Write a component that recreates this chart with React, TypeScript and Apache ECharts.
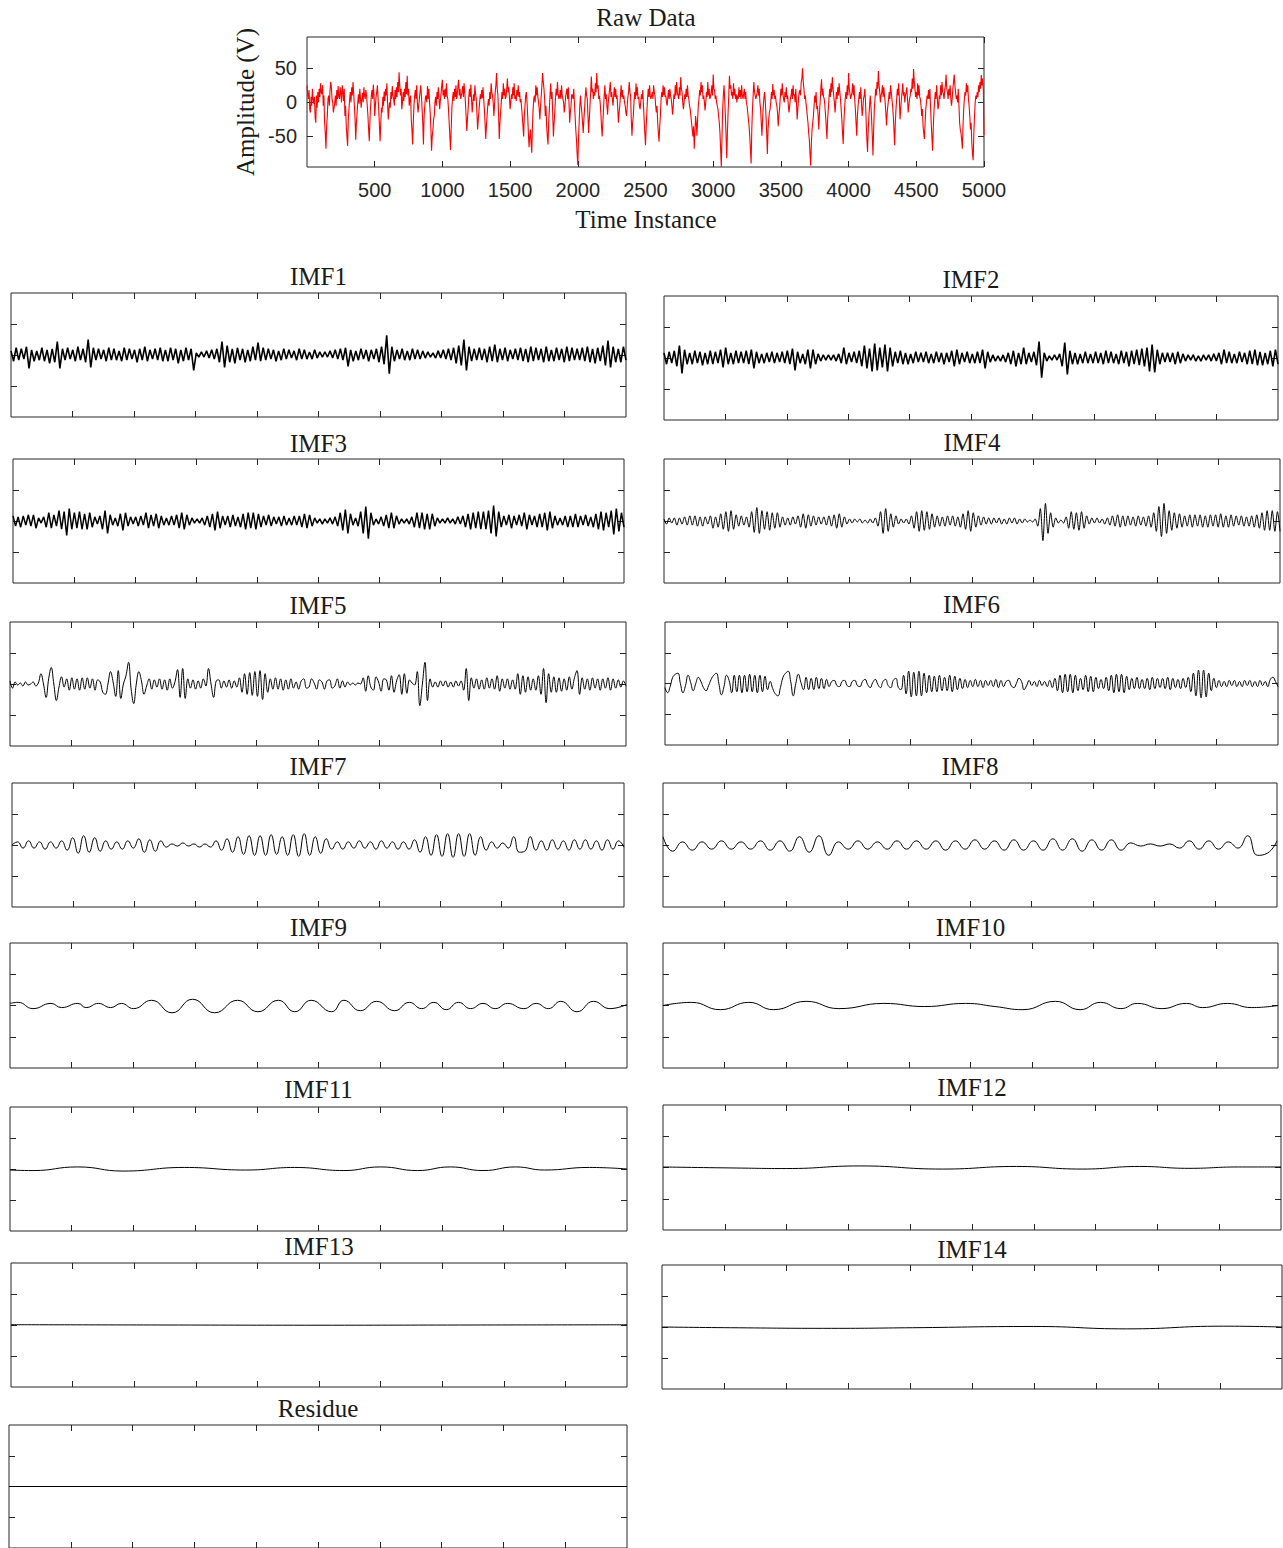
import React, { useEffect, useRef } from 'react';
import * as echarts from 'echarts';

// ---------------- DATA ----------------
const RAW_STEP = 5; // samples between values
const RAW_VALUES = [
  25,12,5,18,-10,-15,8,-5,20,5,-2,8,-22,-30,10,-8,15,0,20,8,28,15,12,25,-5,10,-30,-45,-68,-35,-20,5,10,-5,18,30,22,5,0,-15,
  -15,0,10,-5,18,5,24,8,5,22,14,0,25,15,2,20,-20,-5,-35,-50,-64,-25,-10,5,15,0,22,10,30,12,-5,-25,-55,-30,-15,0,12,-2,20,5,
  -8,5,14,0,22,10,5,18,10,-5,-20,-40,-57,-25,-5,10,18,5,26,10,-20,-5,8,15,25,5,-12,-35,-57,-30,-8,-15,8,-5,16,2,20,10,28,0,
  -25,-10,0,-8,15,5,24,10,5,-5,18,5,22,8,30,15,44,25,10,20,-10,0,15,2,20,8,30,12,39,10,20,-5,5,10,-25,-40,-62,-30,-5,10,
  18,5,25,0,-15,-5,5,15,25,10,-10,-30,-62,-20,-5,8,10,0,24,5,20,0,-15,-40,-71,-50,-40,-25,-20,0,8,-5,15,5,22,5,-10,3,12,25,
  33,10,18,5,20,8,28,10,5,-10,-30,-50,-70,-40,-8,5,15,2,20,8,25,5,12,25,33,10,20,5,10,15,24,8,28,15,0,-20,-42,-25,-10,8,
  20,8,26,5,-15,0,12,2,25,12,5,-15,-40,-25,-12,0,12,5,18,6,22,5,-10,-30,-54,-35,-20,-5,5,-5,15,5,28,15,10,0,-20,-5,15,25,
  43,20,10,-20,-54,-30,-15,0,15,5,28,10,20,5,8,20,35,15,22,8,-10,0,12,5,22,10,28,5,10,2,18,10,25,8,15,0,5,-8,-20,-35,
  -50,-20,-5,10,15,0,-20,-45,-66,-50,-40,-60,-74,-35,-10,5,10,0,25,10,22,8,0,-10,-25,-5,10,25,43,30,20,5,-20,-5,-35,-50,-62,-30,-10,12,
  28,5,15,-20,-50,-30,-15,5,20,10,30,12,5,8,18,5,25,10,10,0,-15,-5,8,15,20,5,22,0,-30,-15,-5,12,10,5,20,0,-20,-40,-55,-75,
  -92,-55,-30,-5,10,-5,-15,-30,-45,-25,-10,8,22,10,5,-20,-45,-25,-5,15,38,15,20,5,15,10,28,15,43,20,25,5,10,0,-15,-35,-50,-30,-10,10,
  25,5,12,-5,-18,0,10,20,30,8,15,5,-5,10,22,8,20,5,10,-10,-30,-15,-5,10,25,8,18,5,10,0,-5,-15,-20,-5,8,15,30,15,10,-25,
  -49,-30,-20,0,15,5,28,10,22,5,8,-5,-10,0,12,5,18,-5,-25,-45,-63,-35,-15,5,20,8,25,10,5,10,15,5,25,15,10,-5,-15,-5,-30,-45,
  -58,-35,-20,5,15,8,25,10,22,8,10,0,-5,8,18,5,20,10,5,-5,-18,-5,12,5,25,10,30,15,10,5,22,10,37,20,15,0,-10,0,12,5,
  20,8,25,10,5,-5,-10,-20,-30,-40,-50,-35,-68,-45,-20,-30,-49,-25,-5,5,18,10,30,15,25,5,10,0,-12,0,15,8,30,10,20,5,8,15,25,10,
  41,20,18,5,10,0,-5,-10,-20,-30,-45,-70,-95,-50,-10,10,25,5,-20,-50,-82,-45,-15,10,39,20,25,10,15,5,28,10,20,5,12,0,10,5,22,8,
  18,5,25,10,5,12,20,5,15,0,-5,-15,-25,-35,-50,-70,-90,-40,-10,10,30,15,15,5,10,15,25,10,20,0,-10,-30,-49,-25,-5,8,15,0,-20,-45,
  -76,-40,-25,-15,-10,0,15,5,27,10,18,5,10,0,-5,-15,-35,-20,-10,5,20,10,28,12,5,0,15,8,22,5,10,-5,-15,-5,5,10,20,5,25,10,
  12,0,20,0,-25,-10,5,15,18,10,30,35,50,30,20,5,10,0,-10,-20,-30,-45,-55,-75,-93,-60,-40,-30,-20,-5,10,0,15,-10,-5,-20,-40,-15,0,20,
  34,10,20,8,5,-5,-20,-35,-54,-25,-10,5,20,8,28,15,37,20,10,0,-15,0,15,5,22,10,28,15,5,-10,-25,-45,-61,-30,-10,5,15,5,25,10,
  43,20,20,5,10,15,28,10,25,5,-10,-30,-49,-20,-5,5,15,5,22,0,-20,-10,5,10,20,0,-30,-55,-73,-40,-20,-5,10,-5,-25,-50,-78,-40,-10,5,
  20,10,30,20,46,25,15,0,10,15,25,8,22,10,0,-15,-34,-15,-5,5,15,5,25,15,5,-5,-20,-40,-63,-30,-10,5,20,10,28,5,-25,-10,5,15,
  28,10,15,0,10,15,22,5,-15,-5,5,10,20,15,35,20,49,30,20,8,15,5,28,10,25,8,5,-5,-20,-10,-35,-45,-54,-30,-10,0,10,5,18,5,
  20,-5,-30,-50,-71,-40,-15,0,15,5,25,8,-10,-5,10,5,25,10,30,15,12,5,18,25,41,20,15,5,20,10,25,5,-5,5,20,30,41,25,15,5,
  10,0,20,-5,-30,-40,-45,-55,-68,-35,-10,5,15,10,28,15,25,5,-5,-20,-40,-30,-60,-75,-85,-45,-20,0,10,5,15,8,25,15,30,20,40,25,35,20,
  -48,
];
const RAW_X_TICKS = [500, 1000, 1500, 2000, 2500, 3000, 3500, 4000, 4500, 5000];
const RAW_Y_TICKS = [-50, 0, 50];
const IMF_X_TICKS = [500, 1000, 1500, 2000, 2500, 3000, 3500, 4000, 4500];
const IMF_Y_TICKS = [-30, 0, 30];
const N_SAMPLES = 5000;

const IMF1 = [
  4,-6,7,-5,6,-4,8,-13,5,-6,4,-5,7,-6,5,-8,6,-7,13,-13,
  6,-5,7,-4,5,-6,8,-5,6,-7,15,-12,7,-5,6,-4,5,-6,7,-5,
  6,-5,4,-6,7,-5,6,-4,5,-7,6,-5,8,-6,5,-4,6,-5,7,-6,
  5,-6,7,-5,6,-8,5,-6,7,-5,6,-15,2,-2,3,-2,4,-3,5,-4,
  6,-7,13,-12,9,-7,6,-8,7,-5,6,-7,5,-6,8,-5,12,-6,7,-5,
  6,-4,5,-6,4,-5,6,-4,5,-3,4,-5,6,-4,5,-4,3,-4,5,-3,
  3,-2,3,-2,4,-3,5,-4,6,-5,7,-11,5,-6,4,-5,6,-4,5,-6,
  5,-4,6,-7,8,-9,19,-18,8,-6,5,-4,6,-5,4,-5,6,-4,5,-4,
  4,-3,3,-2,2,-3,4,-3,5,-4,6,-5,7,-8,9,-10,15,-15,8,-6,
  6,-5,7,-5,6,-7,8,-6,10,-7,6,-5,7,-6,5,-4,6,-5,7,-6,
  6,-7,8,-6,7,-5,6,-7,8,-6,5,-6,7,-5,6,-7,8,-6,7,-5,
  6,-5,7,-6,8,-7,6,-8,7,-6,9,-10,14,-12,8,-7,6,-7,8,-5,
];
const IMF2 = [
  5,-6,6,-5,7,-8,12,-15,8,-6,5,-6,7,-5,6,-7,5,-6,7,-6,
  6,-5,8,-9,10,-6,5,-6,7,-5,6,-5,7,-6,8,-10,6,-5,4,-5,
  5,-4,6,-5,5,-4,6,-5,7,-6,9,-12,6,-5,4,-6,8,-10,8,-6,
  4,-3,3,-2,3,-2,3,-3,4,-5,10,-6,5,-4,6,-5,7,-8,12,-10,
  9,-13,14,-12,10,-9,13,-13,10,-8,6,-5,7,-6,5,-6,4,-5,6,-4,
  5,-4,6,-5,4,-5,6,-4,5,-6,5,-4,7,-8,8,-6,5,-4,6,-5,
  4,-5,6,-5,8,-10,6,-4,3,-3,2,-3,3,-4,5,-6,7,-8,5,-6,
  10,-6,5,-4,6,-7,16,-19,5,-3,2,-2,3,-2,4,-8,15,-16,7,-6,
  5,-6,4,-5,6,-5,4,-5,6,-5,5,-6,7,-5,6,-5,4,-6,7,-5,
  6,-8,7,-6,8,-7,9,-8,10,-13,13,-14,8,-6,5,-4,5,-4,5,-6,
  6,-5,4,-3,3,-2,3,-3,2,-3,3,-2,3,-3,4,-3,5,-6,8,-5,
  6,-5,4,-5,6,-4,5,-6,7,-6,8,-7,6,-7,5,-6,7,-8,8,-6,
];
const IMF3 = [
  5,-5,4,-6,5,-4,6,-5,6,-7,3,-2,4,-6,8,-7,6,-5,10,-8,
  9,-14,12,-8,8,-7,9,-8,7,-8,8,-6,4,-3,5,-8,10,-12,6,-4,
  3,-5,7,-9,8,-5,4,-3,4,-5,5,-4,8,-7,6,-5,7,-7,5,-4,
  3,-4,5,-4,6,-7,8,-8,6,-4,3,-2,2,-2,3,-4,5,-6,7,-9,
  9,-7,5,-4,5,-6,6,-5,4,-6,7,-8,8,-7,8,-8,7,-6,5,-4,
  6,-5,4,-3,4,-5,5,-4,3,-4,5,-4,5,-6,7,-7,6,-5,3,-2,
  2,-3,2,-2,3,-3,4,-5,8,-9,11,-12,7,-4,3,-5,9,-12,14,-17,
  8,-4,2,-3,4,-5,6,-7,8,-7,5,-3,2,-2,2,-3,4,-6,8,-7,
  8,-8,7,-8,7,-5,3,-2,2,-2,3,-2,2,-3,4,-3,5,-6,7,-8,
  8,-7,9,-8,9,-8,10,-12,15,-15,9,-6,5,-4,6,-7,5,-4,6,-5,
  8,-8,6,-4,5,-6,7,-6,8,-9,9,-7,5,-4,3,-4,5,-6,5,-6,
  7,-6,5,-4,6,-5,4,-6,7,-8,9,-9,8,-6,10,-13,12,-10,8,-6,
];
const IMF4 = [
  2,-3,3,-2,3,-4,3,-3,4,-4,5,-4,5,-5,4,-5,4,-3,5,-7,
  4,-6,7,-8,9,-10,10,-8,6,-5,5,-4,4,-6,9,-11,13,-12,10,-8,
  9,-9,8,-7,8,-6,4,-4,3,-4,4,-3,5,-6,7,-7,6,-5,5,-4,
  4,-3,4,-4,5,-5,6,-7,7,-6,4,-3,2,-2,2,-1,2,-2,1,-2,
  2,-2,3,-5,9,-12,12,-10,7,-6,5,-3,2,-2,2,-3,5,-7,9,-10,
  10,-9,9,-8,7,-6,5,-5,4,-5,5,-4,5,-5,4,-6,7,-8,10,-10,
  8,-6,5,-4,4,-3,3,-3,3,-2,3,-3,2,-3,3,-2,3,-3,2,-2,
  2,-1,1,-1,2,-5,12,-19,17,-12,8,-6,3,-2,1,-2,4,-7,9,-8,
  8,-9,9,-7,5,-3,3,-2,3,-2,2,-3,3,-4,5,-5,6,-6,5,-5,
  5,-4,4,-5,5,-4,4,-5,5,-6,8,-10,14,-15,17,-12,10,-9,8,-7,
  7,-6,5,-5,6,-6,6,-5,6,-6,5,-6,6,-5,6,-6,7,-6,5,-6,
  6,-5,5,-4,5,-5,4,-5,5,-6,6,-7,8,-9,10,-9,10,-10,9,-10,
];
const IMF5 = [
  3,-4,2,-1,1,-2,2,-1,0,2,-2,1,
  10,0,-13,5,16,0,-16,-3,7,-3,5,-6,
  6,-5,5,-6,6,-5,6,-4,5,-6,4,2,
  -8,-10,0,12,2,-12,13,-14,0,8,21,-5,
  -19,0,12,3,-10,-2,5,-5,4,-3,5,-5,
  4,-6,5,-4,2,14,-13,15,-14,5,-4,4,
  -5,3,-4,5,-2,15,0,-13,3,4,-4,3,
  -3,4,-4,3,-3,6,-8,10,-10,11,-11,12,
  -12,13,-15,10,-8,5,-5,6,-5,5,-6,4,
  -5,5,-4,2,-5,3,5,-4,-3,5,1,-5,
  4,2,-5,3,4,-4,-2,5,-4,3,-3,2,
  -1,1,-1,1,0,6,-7,8,-3,-6,7,2,
  -7,5,4,-6,8,-8,3,9,-10,10,-9,4,
  1,-1,12,-21,0,21,-16,5,-3,2,-3,3,
  -2,3,-3,2,-3,3,-2,3,-6,15,-16,6,
  -4,5,-5,4,-5,6,-4,5,-5,8,-7,5,
  -4,5,-5,4,-5,10,-10,8,-8,7,-6,5,
  -6,8,-10,15,-18,10,-8,7,-8,6,-7,5,
  -6,7,-5,6,13,-10,6,-5,5,-6,6,-4,
  5,-6,5,-4,6,-6,5,-4,4,-3,3,-2,
];
const IMF6 = [
  -4,-9,-3,6,9,10,0,-9,-2,8,1,-7,
  0,6,2,-4,-7,-2,4,8,10,0,-11,-3,
  8,3,-9,8,-8,8,-9,8,-8,9,-8,8,
  -9,8,-8,7,-6,2,-5,-10,-12,-4,6,10,12,2,-12,0,9,1,-6,6,
  -6,5,-6,6,-5,5,-5,4,
  -3,2,3,-2,-3,2,3,-2,-3,2,3,-2,-3,2,4,-1,-4,1,4,-1,-4,2,4,-2,-4,3,5,-4,-6,
  8,-10,12,-13,11,-12,12,-12,10,-9,8,
  -8,7,-8,8,-7,6,-7,8,-8,7,-6,5,-5,4,
  -4,3,-3,4,-3,3,-4,3,-2,3,-3,4,-4,3,-3,2,3,-2,-4,0,5,
  2,-6,-2,3,-2,
  2,-3,3,-2,2,-3,3,-4,5,
  -7,8,-9,9,-8,9,-9,8,-7,
  5,-6,8,-8,7,-8,6,-5,
  4,-5,6,-7,
  8,-9,9,-8,9,-9,7,
  -6,5,-5,6,-5,4,-5,5,-6,6,-5,5,-4,5,-5,6,-6,5,-4,4,-5,5,-4,6,-8,
  10,-12,13,-14,13,-13,10,-7,5,-4,
  3,-3,2,-3,3,-2,3,-3,2,-3,3,-2,3,-3,2,-3,3,-2,
  2,-3,4,6,2,-3,
];
const IMF7 = [
  0,3,-3,4,-3,3,-4,3,-3,4,
  -5,7,-8,9,-7,7,-6,
  4,-4,3,-4,4,-3,
  6,-7,5,-6,4,
  -2,1,-1,2,-1,1,-2,1,-2,
  4,-5,6,-7,
  8,-9,9,-10,9,-10,10,-9,8,-10,10,-11,11,-10,8,-8,6,
  -4,3,-4,3,-3,4,-3,3,-4,4,-3,3,-4,3,-4,
  5,-7,8,-10,10,-11,11,-12,11,-11,11,-10,
  8,-5,3,-3,2,-3,
  8,-7,-6,8,-5,
  4,-5,5,-4,4,-5,5,-4,5,-4,4,-5,5,-4,4,-2,
];
const IMF8 = [
  8,-6,3,-5,3,-4,4,-4,3,-4,4,-5,4,-6,8,-7,9,-10,3,-4,
  4,-4,3,-4,4,-4,4,-4,4,-5,4,-4,5,-4,4,-5,5,-5,4,-5,
  6,-5,6,-6,5,-5,5,-5,2,-1,1,-1,1,-3,4,-4,4,-4,3,-3,
  9,-10,-8,4,
];
const IMF9_T = [0,66,186,332,418,550,617,716,816,902,1001,1147,1313,1479,1658,1844,2009,2175,2308,2440,2606,2706,2838,2971,3117,3236,3336,3435,3535,3634,3733,3833,3932,4032,4164,4264,4363,4463,4595,4728,4861,5000];
const IMF9_V = [2,3,-3,2,-2,2,-2,2,-2,2,-3,5,-7,6,-7,5,-6,5,-6,5,-6,5,-5,4,-5,3,-3,3,-4,3,-3,2,-3,2,-3,2,-3,4,-6,4,-3,1];
const IMF10_T = [0,233,465,698,898,1164,1430,1795,2128,2460,2700,2926,3191,3391,3557,3723,3856,4056,4255,4388,4588,4787,5000];
const IMF10_V = [0,3,-4,3,-4,4,-3,2,-1,2,-1,-4,4,-4,3,-3,2,-3,2,-2,2,-2,0];
const IMF11_T = [0,186,550,915,1412,1910,2308,2706,3004,3302,3568,3833,4098,4330,4695,5000];
const IMF11_V = [-1,-1.5,2,-2,1.5,-1,1.5,-1.5,2,-1.5,2,-1.5,2,-1,1.5,0];
const IMF12_T = [0,598,997,1596,2261,2859,3391,3856,4255,4654,5000];
const IMF12_V = [0.5,-0.5,-1,1.5,-1.5,1,-1.5,1,-0.8,0.5,0.5];
const IMF13_T = [0,1250,2500,3750,5000];
const IMF13_V = [0.3,0,-0.2,0,0.2];
const IMF14_T = [0,554,1368,2020,2997,3746,4528,5000];
const IMF14_V = [0,-0.7,-1.3,-0.7,0.5,-1.8,0.8,0];
const RESIDUE_T = [0,5000];
const RESIDUE_V = [0,0];

// ---------------- LAYOUT ----------------
type Panel = { title: string; box: number[]; titleY: number; smooth: number | boolean; width: number };
const PANELS: Panel[] = [
  { title: 'IMF1', box: [11, 293, 615, 124], titleY: 276, smooth: false, width: 1.6 },
  { title: 'IMF2', box: [664, 296, 614, 124], titleY: 279, smooth: false, width: 1.6 },
  { title: 'IMF3', box: [13, 459, 611, 124], titleY: 443, smooth: false, width: 1.5 },
  { title: 'IMF4', box: [664, 459, 616, 124], titleY: 442, smooth: 0.3, width: 1 },
  { title: 'IMF5', box: [10, 622, 616, 124], titleY: 605, smooth: 0.4, width: 1 },
  { title: 'IMF6', box: [665, 622, 613, 123], titleY: 604, smooth: 0.5, width: 1 },
  { title: 'IMF7', box: [12, 783, 612, 124], titleY: 766, smooth: 0.5, width: 1 },
  { title: 'IMF8', box: [663, 783, 614, 124], titleY: 766, smooth: 0.5, width: 1 },
  { title: 'IMF9', box: [10, 943, 617, 125], titleY: 927, smooth: 0.5, width: 1 },
  { title: 'IMF10', box: [663, 943, 615, 125], titleY: 927, smooth: 0.5, width: 1 },
  { title: 'IMF11', box: [10, 1107, 617, 124], titleY: 1089, smooth: 0.5, width: 1 },
  { title: 'IMF12', box: [663, 1105, 618, 125], titleY: 1087, smooth: 0.5, width: 1 },
  { title: 'IMF13', box: [11, 1263, 616, 124], titleY: 1246, smooth: 0.5, width: 1 },
  { title: 'IMF14', box: [662, 1265, 620, 124], titleY: 1249, smooth: 0.5, width: 1 },
  { title: 'Residue', box: [9, 1425, 618, 123], titleY: 1408, smooth: false, width: 1.2 },
];

const uniform = (vals: number[]) => vals.map((v, i) => [(i * N_SAMPLES) / (vals.length - 1), v]);
const paired = (t: number[], v: number[]) => t.map((x, i) => [x, v[i]]);

const PANEL_DATA = [
  uniform(IMF1), uniform(IMF2), uniform(IMF3), uniform(IMF4), uniform(IMF5),
  uniform(IMF6), uniform(IMF7), uniform(IMF8),
  paired(IMF9_T, IMF9_V), paired(IMF10_T, IMF10_V), paired(IMF11_T, IMF11_V),
  paired(IMF12_T, IMF12_V), paired(IMF13_T, IMF13_V), paired(IMF14_T, IMF14_V),
  paired(RESIDUE_T, RESIDUE_V),
];

const SERIF = '"Liberation Serif", "DejaVu Serif", serif';
const SANS = '"Liberation Sans", Arial, Helvetica, sans-serif';
const AXIS_COLOR = '#262626';

function buildOption() {
  const grids: any[] = [];
  const xAxes: any[] = [];
  const yAxes: any[] = [];
  const series: any[] = [];
  const graphics: any[] = [];

  const tick = (vals: number[]) => ({
    show: true, inside: true, length: 6, customValues: vals,
    lineStyle: { color: AXIS_COLOR, width: 1 },
  });
  const noLine = { show: false, onZero: false };
  const fmt = (v: number) => String(v);

  const addGrid = (box: number[], xmin: number, xmax: number, ymin: number, ymax: number,
    xt: number[], yt: number[], labels: boolean) => {
    const g = grids.length;
    grids.push({
      left: box[0], top: box[1], width: box[2], height: box[3],
      show: true, borderColor: '#262626', borderWidth: 1, backgroundColor: 'transparent',
      outerBoundsMode: 'none',
    });
    xAxes.push({
      type: 'value', gridIndex: g, position: 'bottom', min: xmin, max: xmax,
      axisLine: noLine, splitLine: { show: false }, axisTick: tick(xt),
      axisLabel: labels
        ? { show: true, customValues: xt, formatter: fmt, margin: 13, fontSize: 20, color: AXIS_COLOR, fontFamily: SANS }
        : { show: false },
    });
    xAxes.push({
      type: 'value', gridIndex: g, position: 'top', min: xmin, max: xmax,
      axisLine: noLine, splitLine: { show: false }, axisTick: tick(xt), axisLabel: { show: false },
    });
    yAxes.push({
      type: 'value', gridIndex: g, position: 'left', min: ymin, max: ymax,
      axisLine: noLine, splitLine: { show: false }, axisTick: tick(yt),
      axisLabel: labels
        ? { show: true, customValues: yt, formatter: fmt, margin: 10, fontSize: 20, color: AXIS_COLOR, fontFamily: SANS }
        : { show: false },
    });
    yAxes.push({
      type: 'value', gridIndex: g, position: 'right', min: ymin, max: ymax,
      axisLine: noLine, splitLine: { show: false }, axisTick: tick(yt), axisLabel: { show: false },
    });
    return g;
  };

  // Raw data panel
  const rg = addGrid([307, 37, 677, 130], 0, N_SAMPLES, -95, 96, RAW_X_TICKS, RAW_Y_TICKS, true);
  series.push({
    type: 'line', xAxisIndex: rg * 2, yAxisIndex: rg * 2,
    data: RAW_VALUES.map((v, i) => [i * RAW_STEP, v]),
    showSymbol: false, symbol: 'none', silent: true,
    lineStyle: { color: '#ff0000', width: 1.1, join: 'bevel' },
  });
  const titleStyle = (text: string) => ({
    text, font: `25px ${SERIF}`, fill: '#1a1a1a', align: 'center', verticalAlign: 'middle',
  });
  graphics.push({ type: 'text', x: 646, y: 17, style: titleStyle('Raw Data') });
  graphics.push({ type: 'text', x: 646, y: 219, style: titleStyle('Time Instance') });
  graphics.push({ type: 'text', x: 245, y: 102, rotation: Math.PI / 2, style: titleStyle('Amplitude (V)') });

  PANELS.forEach((p, k) => {
    const g = addGrid(p.box, 0, N_SAMPLES, -60, 60, IMF_X_TICKS, IMF_Y_TICKS, false);
    series.push({
      type: 'line', xAxisIndex: g * 2, yAxisIndex: g * 2,
      data: PANEL_DATA[k],
      showSymbol: false, symbol: 'none', silent: true, smooth: p.smooth,
      lineStyle: { color: '#000000', width: p.width, join: 'bevel' },
    });
    graphics.push({ type: 'text', x: p.box[0] + p.box[2] / 2, y: p.titleY, style: titleStyle(p.title) });
  });

  return {
    animation: false,
    backgroundColor: '#ffffff',
    grid: grids,
    xAxis: xAxes,
    yAxis: yAxes,
    series,
    graphic: graphics,
  };
}

export default function App() {
  const ref = useRef<HTMLDivElement>(null);
  useEffect(() => {
    if (!ref.current) return;
    const chart = echarts.init(ref.current, null, { renderer: 'svg' });
    chart.setOption(buildOption());
    return () => chart.dispose();
  }, []);
  return (
    <div
      ref={ref}
      style={{ position: 'absolute', left: 0, top: 0, width: 1283, height: 1548, background: '#fff' }}
    />
  );
}
